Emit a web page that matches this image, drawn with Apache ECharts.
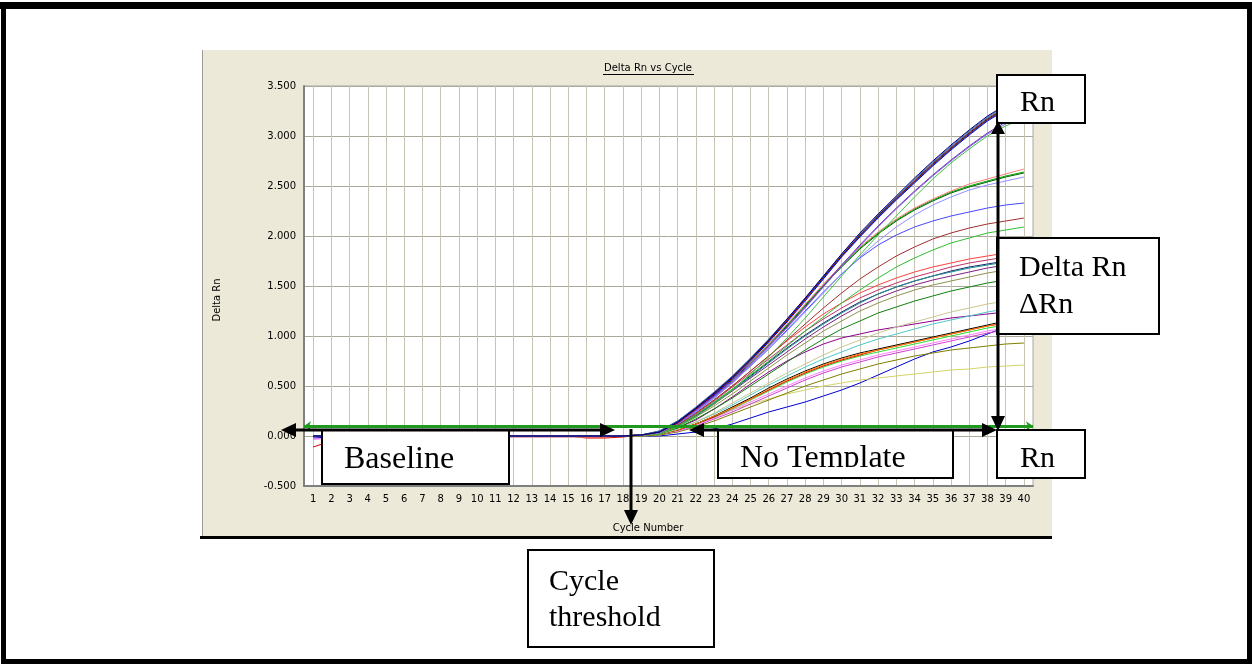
<!DOCTYPE html>
<html><head><meta charset="utf-8">
<script src="https://cdn.jsdelivr.net/npm/echarts@6/dist/echarts.min.js"></script>
<style>html,body{margin:0;padding:0;background:#fff}#c{width:1252px;height:664px}</style>
</head><body><div id="c"></div>
<script>
const cycles = [1,2,3,4,5,6,7,8,9,10,11,12,13,14,15,16,17,18,19,20,21,22,23,24,25,26,27,28,29,30,31,32,33,34,35,36,37,38,39,40];
const thresholdValue = 0.1;
const chartTitle = 'Delta Rn vs Cycle';
const xTitle = 'Cycle Number';
const yTitle = 'Delta Rn';

// ---- amplification curves (Delta Rn per cycle 1..40) ----
const bluelow   = [-0.02,-0.01,0,0,0,0,0,0,0,0,0,0,0,0,0,0,0, 0,0,0,0.02,0.04,0.07,0.12,0.18,0.24,0.29,0.34,0.40,0.46,0.53,0.61,0.69,0.77,0.84,0.89,0.95,1.02,1.09,1.15];
const paleyellow= [0,0,0,0,0,0,0,0,0,0,0,-0.01,-0.01,-0.01,-0.01,-0.01,-0.01, 0,0,0.01,0.05,0.12,0.19,0.26,0.32,0.37,0.42,0.46,0.50,0.53,0.56,0.58,0.60,0.62,0.64,0.66,0.67,0.69,0.70,0.71];
const olive     = [0,0,0,0,0,0,0,0,0,0,0,0,0,0,0,0,0, 0,0,0.01,0.04,0.09,0.15,0.22,0.29,0.36,0.43,0.50,0.56,0.62,0.67,0.72,0.76,0.80,0.83,0.86,0.88,0.90,0.92,0.93];
const magenta2  = [-0.03,-0.02,-0.01,0,0,0,0,0,0,0,0,-0.01,-0.01,-0.01,-0.01,-0.01,-0.01, 0,0.01,0.02,0.05,0.10,0.17,0.24,0.32,0.40,0.48,0.56,0.63,0.69,0.74,0.79,0.83,0.87,0.91,0.95,0.99,1.03,1.06,1.09];
const pink      = [-0.03,-0.02,-0.01,0,0,0,0,0,0,0,0,-0.01,-0.01,-0.01,-0.01,-0.01,-0.01, 0,0.01,0.02,0.05,0.11,0.18,0.26,0.34,0.42,0.50,0.58,0.65,0.71,0.76,0.81,0.85,0.89,0.93,0.97,1.01,1.05,1.08,1.11];
const lime      = [0,0,0,0,0,0,0,0,0,0,0,0,0,0,0,0,0, 0,0.01,0.02,0.06,0.12,0.19,0.27,0.36,0.45,0.54,0.62,0.69,0.75,0.80,0.84,0.88,0.92,0.96,1.00,1.04,1.08,1.11,1.14];
const red4      = [-0.11,-0.05,-0.02,-0.01,0,0,0,0,0,0,0,0,0,0,0,-0.02,-0.02, -0.01,0.01,0.02,0.06,0.12,0.19,0.28,0.37,0.46,0.55,0.63,0.70,0.76,0.81,0.86,0.90,0.94,0.98,1.02,1.06,1.10,1.13,1.16];
const black     = [0,0,0,0,0,0,0,0,0,0,0,0,0,0,0,0,0, 0,0.01,0.02,0.06,0.12,0.20,0.29,0.38,0.48,0.57,0.65,0.72,0.78,0.83,0.87,0.91,0.95,0.99,1.03,1.07,1.11,1.15,1.18];
const orange    = [0,0,0,0,0,0,0,0,0,0,0,0,0,0,0,0,0, 0,0.01,0.02,0.06,0.12,0.20,0.28,0.37,0.47,0.56,0.64,0.71,0.77,0.82,0.86,0.90,0.94,0.98,1.02,1.06,1.10,1.14,1.17];
const purple3   = [0,0,0,0,0,0,0,0,0,0,0,0,0,0,0,0,0, 0,0.01,0.03,0.08,0.16,0.27,0.39,0.52,0.64,0.75,0.84,0.92,0.98,1.02,1.06,1.09,1.12,1.15,1.18,1.20,1.22,1.24,1.26];
const lightteal = [0,0,0,0,0,0,0,0,0,0,0,0,0,0,0,0,0, 0,0.01,0.02,0.07,0.14,0.22,0.31,0.41,0.51,0.60,0.69,0.77,0.84,0.91,0.97,1.02,1.07,1.12,1.16,1.20,1.24,1.27,1.30];
const paleolive = [0,0,0,0,0,0,0,0,0,0,0,-0.01,-0.01,-0.01,-0.01,-0.01,-0.01, 0,0.01,0.02,0.07,0.14,0.23,0.33,0.43,0.53,0.63,0.72,0.81,0.89,0.96,1.03,1.09,1.14,1.19,1.24,1.28,1.32,1.35,1.38];
const darkgreen2= [0,0,0,0,0,0,0,0,0,0,0,0,0,0,0,0,0, 0,0.01,0.02,0.08,0.17,0.27,0.38,0.50,0.62,0.74,0.86,0.97,1.07,1.15,1.23,1.29,1.35,1.40,1.45,1.49,1.53,1.56,1.59];
const khaki     = [0,0,0,0,0,0,0,0,0,0,0,0,0,0,0,0,0, 0,0.01,0.02,0.09,0.19,0.30,0.42,0.55,0.68,0.81,0.93,1.05,1.15,1.25,1.33,1.40,1.46,1.51,1.55,1.59,1.63,1.66,1.69];
const purple2   = [0,0,0,0,0,0,0,0,0,0,0,0,0,0,0,0,0, 0,0.01,0.03,0.10,0.20,0.32,0.45,0.58,0.71,0.84,0.97,1.09,1.20,1.30,1.38,1.45,1.51,1.56,1.60,1.64,1.68,1.71,1.73];
const navy2     = [0,0,0,0,0,0,0,0,0,0,0,0,0,0,0,0,0, 0,0.01,0.03,0.10,0.21,0.33,0.46,0.60,0.74,0.88,1.01,1.13,1.24,1.34,1.42,1.49,1.55,1.60,1.65,1.69,1.72,1.75,1.77];
const teal      = [0,0,0,0,0,0,0,0,0,0,0,0,0,0,0,0,0, 0,0.01,0.03,0.10,0.21,0.33,0.46,0.59,0.73,0.87,1.00,1.12,1.23,1.33,1.42,1.49,1.55,1.60,1.64,1.68,1.71,1.74,1.76];
const magenta   = [0,0,0,0,0,0,0,0,0,0,0,0,0,0,0,0,0, 0,0.01,0.03,0.11,0.22,0.35,0.49,0.63,0.77,0.91,1.05,1.17,1.28,1.38,1.46,1.53,1.59,1.64,1.69,1.73,1.76,1.79,1.81];
const red3      = [0,0,0,0,0,0,0,0,0,0,0,0,0,0,0,-0.01,-0.01, 0,0.01,0.03,0.11,0.23,0.36,0.50,0.65,0.80,0.95,1.09,1.22,1.33,1.43,1.51,1.58,1.64,1.69,1.73,1.77,1.80,1.83,1.85];
const green2    = [0,0,0,0,0,0,0,0,0,0,0,0,0,0,0,0,0, 0,0.01,0.03,0.10,0.21,0.34,0.47,0.61,0.75,0.90,1.05,1.19,1.33,1.46,1.58,1.69,1.78,1.86,1.93,1.98,2.03,2.06,2.09];
const darkred   = [0,0,0,0,0,0,0,0,0,0,0,0,0,0,0,0,0, 0,0.01,0.03,0.11,0.23,0.36,0.50,0.65,0.80,0.96,1.12,1.28,1.43,1.57,1.69,1.80,1.89,1.97,2.03,2.08,2.12,2.15,2.18];
const blue2     = [0,0,0,0,0,0,0,0,0,0,0,0,0,0,0,0,0, 0,0.01,0.03,0.12,0.24,0.38,0.53,0.70,0.87,1.06,1.25,1.44,1.62,1.78,1.91,2.01,2.09,2.15,2.20,2.24,2.28,2.31,2.33];
const paleblue  = [0,0,0,0,0,0,0,0,0,0,0,0,0,0,0,0,0, 0,0.01,0.03,0.12,0.24,0.38,0.53,0.70,0.87,1.05,1.24,1.43,1.62,1.79,1.95,2.09,2.21,2.31,2.39,2.46,2.51,2.55,2.59];
const green     = [0,0,0,0,0,0,0,0,0,0,0,0,0,0,0,0,0, 0,0.01,0.04,0.13,0.26,0.41,0.57,0.74,0.92,1.11,1.31,1.51,1.70,1.88,2.03,2.16,2.27,2.36,2.44,2.50,2.55,2.60,2.64];
const darkgreen = [0,0,0,0,0,0,0,0,0,0,0,0,0,0,0,0,0, 0,0.01,0.04,0.13,0.26,0.40,0.56,0.73,0.91,1.10,1.30,1.50,1.69,1.87,2.02,2.15,2.26,2.35,2.43,2.49,2.54,2.59,2.63];
const lightred  = [0,0,0,0,0,0,0,0,0,0,0,0,0,0,0,0,0, 0,0.01,0.04,0.13,0.26,0.41,0.57,0.74,0.92,1.12,1.32,1.52,1.71,1.89,2.04,2.17,2.28,2.37,2.45,2.52,2.57,2.62,2.67];
const greenlag  = [0,0,0,0,0,0,0,0,0,0,0,0,0,0,0,0,0, 0,0.01,0.02,0.09,0.19,0.32,0.46,0.62,0.79,0.98,1.18,1.39,1.60,1.81,2.01,2.20,2.39,2.57,2.73,2.87,3.00,3.10,3.18];
const violet    = [0,0,0,0,0,0,0,0,0,0,0,0,0,0,0,0,0, 0,0.01,0.03,0.12,0.25,0.39,0.54,0.71,0.89,1.08,1.28,1.49,1.70,1.90,2.09,2.27,2.44,2.60,2.75,2.89,3.02,3.12,3.21];
const purple    = [0,0,0,0,0,0,0,0,0,0,0,0,0,0,0,0,0, 0,0.01,0.04,0.13,0.26,0.40,0.55,0.72,0.90,1.09,1.29,1.50,1.71,1.91,2.10,2.28,2.45,2.61,2.76,2.90,3.03,3.14,3.23];
const redtop    = [0,0,0,0,0,0,0,0,0,0,0,0,0,0,0,0,0, 0,0.01,0.04,0.14,0.27,0.42,0.58,0.76,0.95,1.15,1.36,1.58,1.80,2.00,2.19,2.37,2.54,2.71,2.87,3.02,3.16,3.27,3.36];
const darkteal  = [0,0,0,0,0,0,0,0,0,0,0,0,0,0,0,0,0, 0,0.01,0.05,0.15,0.28,0.43,0.59,0.77,0.96,1.16,1.37,1.58,1.80,2.00,2.19,2.37,2.54,2.71,2.87,3.02,3.16,3.27,3.36];
const slate     = [0,0,0,0,0,0,0,0,0,0,0,0,0,0,0,0,0, 0,0.01,0.04,0.14,0.27,0.42,0.58,0.76,0.95,1.16,1.37,1.59,1.81,2.01,2.20,2.38,2.56,2.73,2.89,3.04,3.18,3.29,3.38];
const blue      = [0,0,0,0,0,0,0,0,0,0,0,0,0,0,0,0,0, 0,0.01,0.04,0.14,0.27,0.41,0.57,0.75,0.94,1.14,1.35,1.57,1.79,1.99,2.18,2.36,2.53,2.70,2.86,3.01,3.15,3.26,3.35];
const maroon    = [0,0,0,0,0,0,0,0,0,0,0,0,0,0,0,0,0, 0,0.01,0.04,0.13,0.27,0.42,0.58,0.76,0.95,1.15,1.37,1.59,1.80,2.01,2.20,2.38,2.55,2.72,2.88,3.03,3.17,3.28,3.37];
const steel     = [0,0,0,0,0,0,0,0,0,0,0,0,0,0,0,0,0, 0,0.01,0.05,0.15,0.29,0.44,0.60,0.78,0.97,1.17,1.38,1.60,1.82,2.02,2.21,2.39,2.57,2.74,2.90,3.05,3.19,3.30,3.39];
const navy      = [0,0,0,0,0,0,0,0,0,0,0,0,0,0,0,0,0, 0,0.01,0.04,0.14,0.28,0.43,0.59,0.77,0.96,1.17,1.38,1.60,1.82,2.03,2.22,2.40,2.58,2.75,2.91,3.06,3.20,3.31,3.40];

const curves = [
  ['bluelow', bluelow, '#0000d0'], ['paleyellow', paleyellow, '#d4d46a'], ['olive', olive, '#808000'],
  ['magenta2', magenta2, '#d040d0'], ['pink', pink, '#ff80ff'], ['lime', lime, '#30e030'],
  ['red4', red4, '#e00000'], ['black', black, '#000000'], ['orange', orange, '#ff8000'],
  ['purple3', purple3, '#900090'], ['lightteal', lightteal, '#50c8c8'], ['paleolive', paleolive, '#c8c890'],
  ['darkgreen2', darkgreen2, '#108010'], ['khaki', khaki, '#909050'], ['purple2', purple2, '#802080'],
  ['navy2', navy2, '#202070'], ['teal', teal, '#209090'], ['magenta', magenta, '#c0306a'],
  ['red3', red3, '#ff4040'], ['green2', green2, '#30c030'], ['darkred', darkred, '#a03030'],
  ['blue2', blue2, '#4848ff'], ['paleblue', paleblue, '#9090ff'], ['green', green, '#00b000'],
  ['darkgreen', darkgreen, '#006400'], ['lightred', lightred, '#ff8080'], ['greenlag', greenlag, '#40c040'],
  ['violet', violet, '#8060e0'], ['purple', purple, '#7030c0'], ['redtop', redtop, '#d02020'],
  ['darkteal', darkteal, '#205050'], ['slate', slate, '#406090'], ['blue', blue, '#0000ff'],
  ['maroon', maroon, '#800000'], ['steel', steel, '#4070b0'], ['navy', navy, '#000080']
];

const xMin = 0.5, xMax = 40.5;

const series = curves.map(([name, vals, color]) => ({
  name, type: 'line', silent: true, symbol: 'none', showSymbol: false,
  data: cycles.map((c, i) => [c, vals[i]]),
  lineStyle: { width: 1, color }, itemStyle: { color }, z: 2
}));
series.push({
  name: 'threshold', type: 'line', data: [], silent: true,
  markLine: {
    silent: true, symbol: ['arrow', 'arrow'], symbolSize: [7, 7],
    label: { show: false },
    lineStyle: { color: '#1f9a1f', width: 3, type: 'solid' },
    data: [[{ coord: [xMin, thresholdValue] }, { coord: [xMax, thresholdValue] }]]
  }, z: 5
});

const serif = '"Liberation Serif", "Times New Roman", serif';
function txt(text, x, y, size, z) {
  return { type: 'text', x, y, z: z || 110, silent: true,
    style: { text, font: size + 'px ' + serif, fill: '#000', align: 'left', verticalAlign: 'middle', textAlign: 'left', textVerticalAlign: 'middle' } };
}
function box(x, y, w, h) {
  return { type: 'rect', z: 100, silent: true, shape: { x, y, width: w, height: h }, style: { fill: '#fff', stroke: '#000', lineWidth: 2 } };
}
function cover(x, y, w, h) {
  return { type: 'rect', z: 115, silent: true, shape: { x, y, width: w, height: h }, style: { fill: '#fff' } };
}
function seg(x1, y1, x2, y2, w) {
  return { type: 'line', z: 120, silent: true, shape: { x1, y1, x2, y2 }, style: { stroke: '#000', lineWidth: w || 3 } };
}
function head(points) {
  return { type: 'polygon', z: 121, silent: true, shape: { points }, style: { fill: '#000' } };
}
function solid(x, y, w, h, fill, z) {
  return { type: 'rect', z: z, silent: true, shape: { x, y, width: w, height: h }, style: { fill } };
}

const graphic = [
  // screenshot panel
  solid(202, 50, 850, 487, '#ece9d8', -10),
  solid(202, 50, 1, 487, '#9a9a9a', -9),
  solid(200, 536, 852, 3, '#000', 130),
  // page frame
  solid(0, 2, 1252, 7, '#000', 130),
  solid(1, 2, 5, 662, '#000', 130),
  solid(1247, 2, 5, 662, '#000', 130),
  solid(1, 659, 1251, 5, '#000', 130),
  // chart texts
  { type: 'text', x: 648, y: 68.5, z: 50, silent: true, style: { text: chartTitle, font: '10px "DejaVu Sans"', fill: '#000', align: 'center', verticalAlign: 'middle', textAlign: 'center', textVerticalAlign: 'middle' } },
  { type: 'line', z: 50, silent: true, shape: { x1: 603, y1: 74.5, x2: 694, y2: 74.5 }, style: { stroke: '#000', lineWidth: 1 } },
  { type: 'text', x: 648, y: 528, z: 50, silent: true, style: { text: xTitle, font: '10px "DejaVu Sans"', fill: '#000', align: 'center', verticalAlign: 'middle', textAlign: 'center', textVerticalAlign: 'middle' } },
  { type: 'text', x: 217, y: 300, rotation: Math.PI / 2, z: 50, silent: true, style: { text: yTitle, font: '10px "DejaVu Sans"', fill: '#000', align: 'center', verticalAlign: 'middle', textAlign: 'center', textVerticalAlign: 'middle' } },
  // annotation boxes
  box(322, 430, 187, 54), txt('Baseline', 344, 460, 32),
  box(718, 430, 235, 48), txt('No Template', 740, 459, 32), cover(719, 467, 233, 10),
  box(997, 430, 88, 48), txt('Rn', 1020, 459, 30), cover(998, 467, 86, 10),
  box(997, 75, 88, 48), txt('Rn', 1020, 103, 30),
  box(997, 238, 162, 96), txt('Delta Rn', 1019, 268, 30), txt('\u0394Rn', 1019, 305, 30),
  box(528, 550, 186, 97), txt('Cycle', 549, 582, 30), txt('threshold', 549, 618, 30),
  // arrows
  seg(295, 430, 601, 430), head([[281, 430], [296, 423], [296, 437]]), head([[615, 430], [600, 423], [600, 437]]),
  seg(703, 430, 983, 430), head([[689, 430], [704, 423], [704, 437]]), head([[997, 430], [982, 423], [982, 437]]),
  seg(998, 133, 998, 417), head([[998, 121], [991, 134], [1005, 134]]), head([[998, 431], [991, 416], [1005, 416]]),
  seg(631, 429, 631, 511), head([[631, 525], [624, 510], [638, 510]])
];

const chart = echarts.init(document.getElementById('c'), null, { renderer: 'canvas' });
chart.setOption({
  animation: false,
  backgroundColor: '#fff',
  grid: { left: 304, top: 86, width: 729, height: 400, show: true, backgroundColor: '#fff', borderColor: '#a8a8a8', borderWidth: 1, z: 0 },
  xAxis: {
    type: 'value', min: xMin, max: xMax,
    axisLine: { show: true, onZero: false, lineStyle: { color: '#808080', width: 2 } },
    axisTick: { show: false, customValues: cycles },
    axisLabel: { customValues: cycles, color: '#000', fontFamily: 'DejaVu Sans', fontSize: 10, margin: 8 },
    splitLine: { show: true, lineStyle: { color: '#c8c4b4', width: 1 } }
  },
  yAxis: {
    type: 'value', min: -0.5, max: 3.5, interval: 0.5,
    axisLine: { show: true, lineStyle: { color: '#808080', width: 2 } },
    axisTick: { show: false },
    axisLabel: { formatter: v => v.toFixed(3), color: '#000', fontFamily: 'DejaVu Sans', fontSize: 10, margin: 8 },
    splitLine: { show: true, lineStyle: { color: '#aca899', width: 1 } }
  },
  series,
  graphic
});
</script>
</body></html>
